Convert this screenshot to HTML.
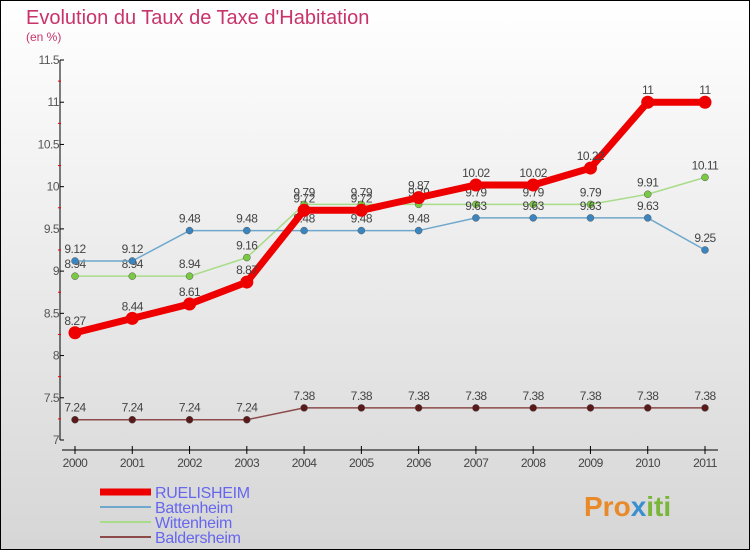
<!DOCTYPE html>
<html><head><meta charset="utf-8"><style>
html,body{margin:0;padding:0}
body{width:750px;height:550px;overflow:hidden;font-family:"Liberation Sans",sans-serif}
#wrap{position:absolute;left:0;top:0;width:748px;height:548px;border:1px solid #000;background:linear-gradient(#ffffff,#d6d6d6)}
</style></head><body>
<div id="wrap">
<svg id="chart" width="748" height="548" viewBox="1 1 748 548">
<text x="26" y="24" font-size="20" fill="#c8336a" font-family="Liberation Sans, sans-serif">Evolution du Taux de Taxe d'Habitation</text>
<text x="26" y="41" font-size="12" fill="#c8336a">(en %)</text>
<g id="axes"></g>
<g id="series"></g>
<g id="legend"></g>
<g>
<text x="584" y="516" font-size="28" font-weight="bold" fill="#e98a2a">Pro<tspan fill="#3a8fd0">x</tspan><tspan fill="#7ab63b">iti</tspan></text>
</g>
</svg>
</div>
<script>
const years=["2000","2001","2002","2003","2004","2005","2006","2007","2008","2009","2010","2011"];
const yTicks=[7,7.5,8,8.5,9,9.5,10,10.5,11,11.5];
const yTickLabels=["7","7.5","8","8.5","9","9.5","10","10.5","11","11.5"];
const seriesNames=["RUELISHEIM","Battenheim","Wittenheim","Baldersheim"];
const ruelisheim=[8.27,8.44,8.61,8.87,9.72,9.72,9.87,10.02,10.02,10.22,11,11];
const battenheim=[9.12,9.12,9.48,9.48,9.48,9.48,9.48,9.63,9.63,9.63,9.63,9.25];
const wittenheim=[8.94,8.94,8.94,9.16,9.79,9.79,9.79,9.79,9.79,9.79,9.91,10.11];
const baldersheim=[7.24,7.24,7.24,7.24,7.38,7.38,7.38,7.38,7.38,7.38,7.38,7.38];

const NS="http://www.w3.org/2000/svg";
function X(i){return 75+i*(705-75)/(years.length-1);}
function Y(v){return 440-(v-7)*(380/4.5);}
function mk(tag,attrs,parent){const e=document.createElementNS(NS,tag);for(const k in attrs)e.setAttribute(k,attrs[k]);parent.appendChild(e);return e;}
const axes=document.getElementById('axes');
let yl=mk('line',{x1:60,y1:60,x2:60,y2:440,stroke:'#000','stroke-width':1},axes);


let xl=mk('line',{x1:62,y1:450,x2:718,y2:450,stroke:'#000','stroke-width':1},axes);


yTicks.forEach((v,i)=>{
  mk('line',{x1:60,y1:Y(v),x2:64,y2:Y(v),stroke:'#000'},axes);
  if(i<yTicks.length-1) mk('line',{x1:58,y1:Y(v+0.25),x2:61,y2:Y(v+0.25),stroke:'#e00'},axes);
  const t=mk('text',{x:59,y:Y(v)+4,'text-anchor':'end','font-size':12,fill:'#555','letter-spacing':'-0.5'},axes);
  t.textContent=yTickLabels[i];
  
  
});
years.forEach((y,i)=>{
  mk('line',{x1:X(i),y1:446,x2:X(i),y2:454,stroke:'#000'},axes);
  const t=mk('text',{x:X(i),y:467,'text-anchor':'middle','font-size':12,fill:'#444','letter-spacing':'-0.5'},axes);
  t.textContent=y;
  
  
});
const sg=document.getElementById('series');
const defs=[
 {d:baldersheim,c:'#8c4a4a',pc:'#5a1a1a',w:1.5,r:3.5,name:'baldersheim'},
 {d:wittenheim,c:'#a8dc88',pc:'#7ac943',w:1.5,r:3.5,name:'wittenheim'},
 {d:battenheim,c:'#6fa8cc',pc:'#3a85c0',w:1.5,r:3.5,name:'battenheim'},
 {d:ruelisheim,c:'#ee0000',pc:'#ee0000',w:7,r:6.5,name:'ruelisheim'}
];
defs.forEach(s=>{
  const g=mk('g',{},sg);
  
  
  const p=mk('polyline',{points:s.d.map((v,i)=>X(i)+','+Y(v)).join(' '),fill:'none',stroke:s.c,'stroke-width':s.w,'stroke-linejoin':'round'},g);
  
  
  s.d.forEach((v,i)=>{
    const c=mk('circle',{cx:X(i),cy:Y(v),r:s.r,fill:s.pc,stroke:s.name==='ruelisheim'?'none':'#555','stroke-width':0.5},g);
    
    
    const t=mk('text',{x:X(i),y:Y(v)-8,'text-anchor':'middle','font-size':12,fill:'#444','letter-spacing':'-0.5'},g);
    t.textContent=String(v);
    
    
  });
});
const lg=document.getElementById('legend');
const lcols=['#ee0000','#6fa8cc','#a8dc88','#8c4a4a'];
seriesNames.forEach((n,i)=>{
  const y=492+i*15;
  const l=mk('line',{x1:100,y1:y,x2:151,y2:y,stroke:lcols[i],'stroke-width':i===0?7:2},lg);
  
  
  const t=mk('text',{x:155,y:y+6,'font-size':16,fill:'#6666ee','letter-spacing':'-0.3'},lg);
  t.textContent=n;
  
  
});
</script>
</body></html>
